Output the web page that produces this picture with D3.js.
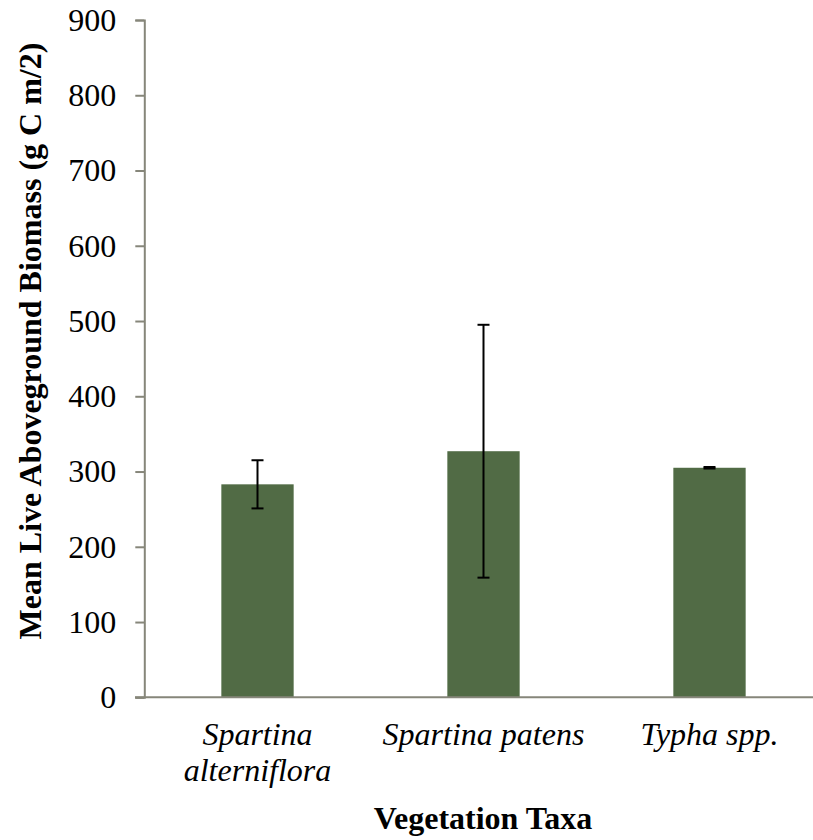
<!DOCTYPE html>
<html>
<head>
<meta charset="utf-8">
<script src="https://cdn.jsdelivr.net/npm/d3@7"></script>
<style>
  html, body { margin: 0; padding: 0; background: #fff; }
  svg { display: block; }
  svg text { font-family: "Liberation Serif", "DejaVu Serif", serif; fill: #000; }
</style>
</head>
<body>
<svg id="chart" width="813" height="840"></svg>
<script>
// Mean live aboveground biomass by vegetation taxon
const taxa = ["Spartina alterniflora", "Spartina patens", "Typha spp."];
const taxaLines = [["Spartina", "alterniflora"], ["Spartina patens"], ["Typha spp."]];
const meanBiomass = [283, 327, 305];
const biomassError = [32, 168, 1];
const yTicks = [0, 100, 200, 300, 400, 500, 600, 700, 800, 900];

const serif = "'Liberation Serif', 'DejaVu Serif', serif";
const fontSize = 32;
const svg = d3.select("#chart");
const axisColor = "#86867a";
const barColor = "#516b45";

const x = d3.scaleBand()
  .domain(taxa)
  .range([144.5, 822.5])
  .paddingInner(0.68)
  .paddingOuter(0.34);

const y = d3.scaleLinear()
  .domain([0, 900])
  .range([697.3, 20]);

// Bars
svg.append("g").selectAll("rect")
  .data(taxa)
  .join("rect")
  .attr("x", d => x(d))
  .attr("width", x.bandwidth())
  .attr("y", (d, i) => y(meanBiomass[i]))
  .attr("height", (d, i) => y(0) - y(meanBiomass[i]))
  .attr("fill", barColor);

// Error bars
const eb = svg.append("g").attr("stroke", "#000").attr("stroke-width", 2);
taxa.forEach((d, i) => {
  const cx = x(d) + x.bandwidth() / 2;
  const hi = y(meanBiomass[i] + biomassError[i]);
  const lo = y(meanBiomass[i] - biomassError[i]);
  eb.append("line").attr("x1", cx).attr("x2", cx).attr("y1", hi).attr("y2", lo);
  eb.append("line").attr("x1", cx - 6).attr("x2", cx + 6).attr("y1", hi).attr("y2", hi);
  eb.append("line").attr("x1", cx - 6).attr("x2", cx + 6).attr("y1", lo).attr("y2", lo);
});

// Y axis
const yAxis = svg.append("g")
  .attr("transform", "translate(144.3,0)")
  .call(d3.axisLeft(y).tickValues(yTicks).tickSize(9).tickPadding(19).tickFormat(d3.format("d")))
  .attr("font-family", serif)
  .attr("font-size", fontSize);
yAxis.select(".domain").attr("stroke", axisColor).attr("stroke-width", 2);
yAxis.selectAll(".tick line").attr("stroke", axisColor).attr("stroke-width", 2);
yAxis.selectAll(".tick text").attr("fill", "#000");

// X axis baseline
const xAxis = svg.append("g")
  .attr("transform", `translate(0,${y(0)})`)
  .call(d3.axisBottom(x).tickSize(0).tickFormat(""));
xAxis.select(".domain").attr("stroke", axisColor).attr("stroke-width", 2)
  .attr("d", `M135,0H822.5`);

// Category labels
const lab = svg.append("g")
  .attr("font-family", serif)
  .attr("font-style", "italic")
  .attr("font-size", fontSize)
  .attr("text-anchor", "middle");
taxa.forEach((d, i) => {
  const cx = x(d) + x.bandwidth() / 2;
  taxaLines[i].forEach((line, j) => {
    lab.append("text").attr("x", cx).attr("y", 745 + j * 36).text(line);
  });
});

// Axis titles
svg.append("text")
  .attr("x", 483)
  .attr("y", 829)
  .attr("text-anchor", "middle")
  .attr("font-family", serif)
  .attr("font-weight", "bold")
  .attr("font-size", fontSize)
  .text("Vegetation Taxa");

svg.append("text")
  .attr("transform", "translate(41,341) rotate(-90)")
  .attr("text-anchor", "middle")
  .attr("font-family", serif)
  .attr("font-weight", "bold")
  .attr("font-size", fontSize)
  .text("Mean Live Aboveground Biomass (g C m/2)");
</script>
</body>
</html>
